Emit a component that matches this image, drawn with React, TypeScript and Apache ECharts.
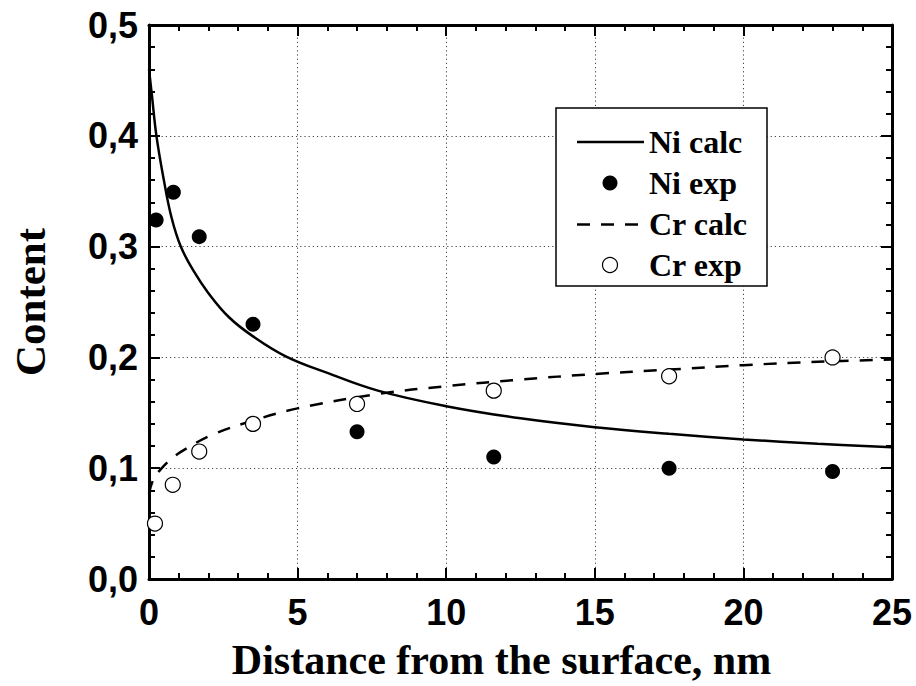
import React, { useEffect, useRef } from "react";
import * as echarts from "echarts";

const niCalcX = [0, 0.1, 0.25, 0.5, 0.76, 1.07, 1.5, 2, 2.7, 3.5, 4.6, 6, 7.7, 10, 12.5, 15, 17.5, 20, 22.5, 25];
const niCalcY = [0.46, 0.436, 0.4, 0.36, 0.326, 0.3, 0.278, 0.258, 0.236, 0.219, 0.201, 0.186, 0.17, 0.156, 0.145, 0.137, 0.131, 0.126, 0.122, 0.119];

const crCalcX = [0, 0.15, 0.43, 0.82, 1.27, 2.11, 3.5, 5, 7.7, 10, 12.5, 15, 17.5, 20, 22.5, 25];
const crCalcY = [0.077, 0.09, 0.1, 0.11, 0.118, 0.13, 0.143, 0.154, 0.167, 0.174, 0.18, 0.185, 0.189, 0.193, 0.196, 0.198];

const niExpX = [0.24, 0.82, 1.69, 3.5, 7.0, 11.6, 17.5, 23.0];
const niExpY = [0.324, 0.349, 0.309, 0.23, 0.133, 0.11, 0.1, 0.097];

const crExpX = [0.2, 0.8, 1.69, 3.5, 7.0, 11.6, 17.5, 23.0];
const crExpY = [0.05, 0.085, 0.115, 0.14, 0.158, 0.17, 0.183, 0.2];

const seriesNames = ["Ni calc", "Ni exp", "Cr calc", "Cr exp"];
const xTitle = "Distance from the surface, nm";
const yTitle = "Content";

const zip = (xs: number[], ys: number[]) => xs.map((x, i) => [x, ys[i]]);

export default function App() {
  const ref = useRef<HTMLDivElement>(null);
  useEffect(() => {
    document.body.style.margin = "0";
    const chart = echarts.init(ref.current!, null, { renderer: "svg" });
    const sansBold = { fontFamily: "Liberation Sans", fontWeight: "bold" as const, fontSize: 36, color: "#000" };
    const serifBold = { fontFamily: "Liberation Serif", fontWeight: "bold" as const, color: "#000" };
    const axisCommon = {
      axisLine: { show: true, onZero: false, lineStyle: { color: "#000", width: 3 } },
      axisTick: { show: true, inside: true, length: 11, lineStyle: { color: "#000", width: 2 } },
      minorTick: { show: true, splitNumber: 5, length: 6, lineStyle: { color: "#000", width: 2 } },
    };
    const hiddenIcon = { color: "rgba(0,0,0,0)", borderWidth: 0, opacity: 0 };
    const dash = [13, 11];
    chart.setOption({
      animation: false,
      backgroundColor: "#fff",
      grid: { left: 149, right: 24, top: 25, bottom: 107 },
      xAxis: [
        {
          type: "value", min: 0, max: 25, interval: 5, position: "bottom",
          ...axisCommon,
          axisLabel: { ...sansBold, margin: 15, formatter: (v: number) => String(v) },
          splitLine: { show: true, lineStyle: { color: "#444", width: 1, type: [1.2, 3] } },
          name: xTitle, nameLocation: "middle", nameGap: 60,
          nameTextStyle: { ...serifBold, fontSize: 42, padding: [0, 38, 0, 0] },
        },
        {
          type: "value", min: 0, max: 25, interval: 5, position: "top",
          ...axisCommon,
          axisLabel: { show: false },
          splitLine: { show: false },
        },
      ],
      yAxis: [
        {
          type: "value", min: 0, max: 0.5, interval: 0.1, position: "left",
          ...axisCommon,
          axisLabel: { ...sansBold, margin: 11, formatter: (v: number) => v.toFixed(1).replace(".", ",") },
          splitLine: { show: true, lineStyle: { color: "#444", width: 1, type: [1.2, 3] } },
          name: yTitle, nameLocation: "middle", nameGap: 97, nameRotate: 90,
          nameTextStyle: { ...serifBold, fontSize: 43 },
        },
        {
          type: "value", min: 0, max: 0.5, interval: 0.1, position: "right",
          ...axisCommon,
          axisLabel: { show: false },
          splitLine: { show: false },
        },
      ],
      legend: {
        orient: "vertical",
        left: 576, top: 126,
        padding: 0,
        itemGap: 9,
        itemWidth: 68, itemHeight: 15,
        z: 20,
        textStyle: { ...serifBold, fontSize: 32 },
        data: [
          { name: seriesNames[0], icon: "rect", itemStyle: hiddenIcon },
          { name: seriesNames[1], icon: "circle" },
          { name: seriesNames[2], icon: "rect", itemStyle: hiddenIcon },
          { name: seriesNames[3], icon: "circle", itemStyle: { borderWidth: 1.2, borderColor: "#000", color: "#fff" } },
        ],
      },
      graphic: [
        {
          type: "rect", z: 10,
          shape: { x: 556, y: 108, width: 211, height: 178 },
          style: { fill: "#fff", stroke: "#000", lineWidth: 1.5 },
        },
        {
          type: "line", z: 25,
          shape: { x1: 577, y1: 142, x2: 644, y2: 142 },
          style: { stroke: "#000", lineWidth: 2.5 },
        },
        {
          type: "line", z: 25,
          shape: { x1: 577, y1: 224.5, x2: 644, y2: 224.5 },
          style: { stroke: "#000", lineWidth: 2.5, lineDash: dash },
        },
      ],
      series: [
        {
          name: seriesNames[2], type: "line", data: zip(crCalcX, crCalcY),
          showSymbol: false, symbol: "none", smooth: 0.4,
          lineStyle: { color: "#000", width: 2.5, type: dash },
          itemStyle: { color: "#000" }, z: 2,
        },
        {
          name: seriesNames[0], type: "line", data: zip(niCalcX, niCalcY),
          showSymbol: false, symbol: "none", smooth: 0.4,
          lineStyle: { color: "#000", width: 2.5 },
          itemStyle: { color: "#000" }, z: 3,
        },
        {
          name: seriesNames[1], type: "scatter", data: zip(niExpX, niExpY),
          symbol: "circle", symbolSize: 15,
          itemStyle: { color: "#000", opacity: 1 }, z: 4,
        },
        {
          name: seriesNames[3], type: "scatter", data: zip(crExpX, crExpY),
          symbol: "circle", symbolSize: 15,
          itemStyle: { color: "#fff", borderColor: "#000", borderWidth: 1.2, opacity: 1 }, z: 4,
        },
      ],
    });
    return () => chart.dispose();
  }, []);
  return <div ref={ref} style={{ position: "absolute", left: 0, top: 0, width: 916, height: 686 }} />;
}
